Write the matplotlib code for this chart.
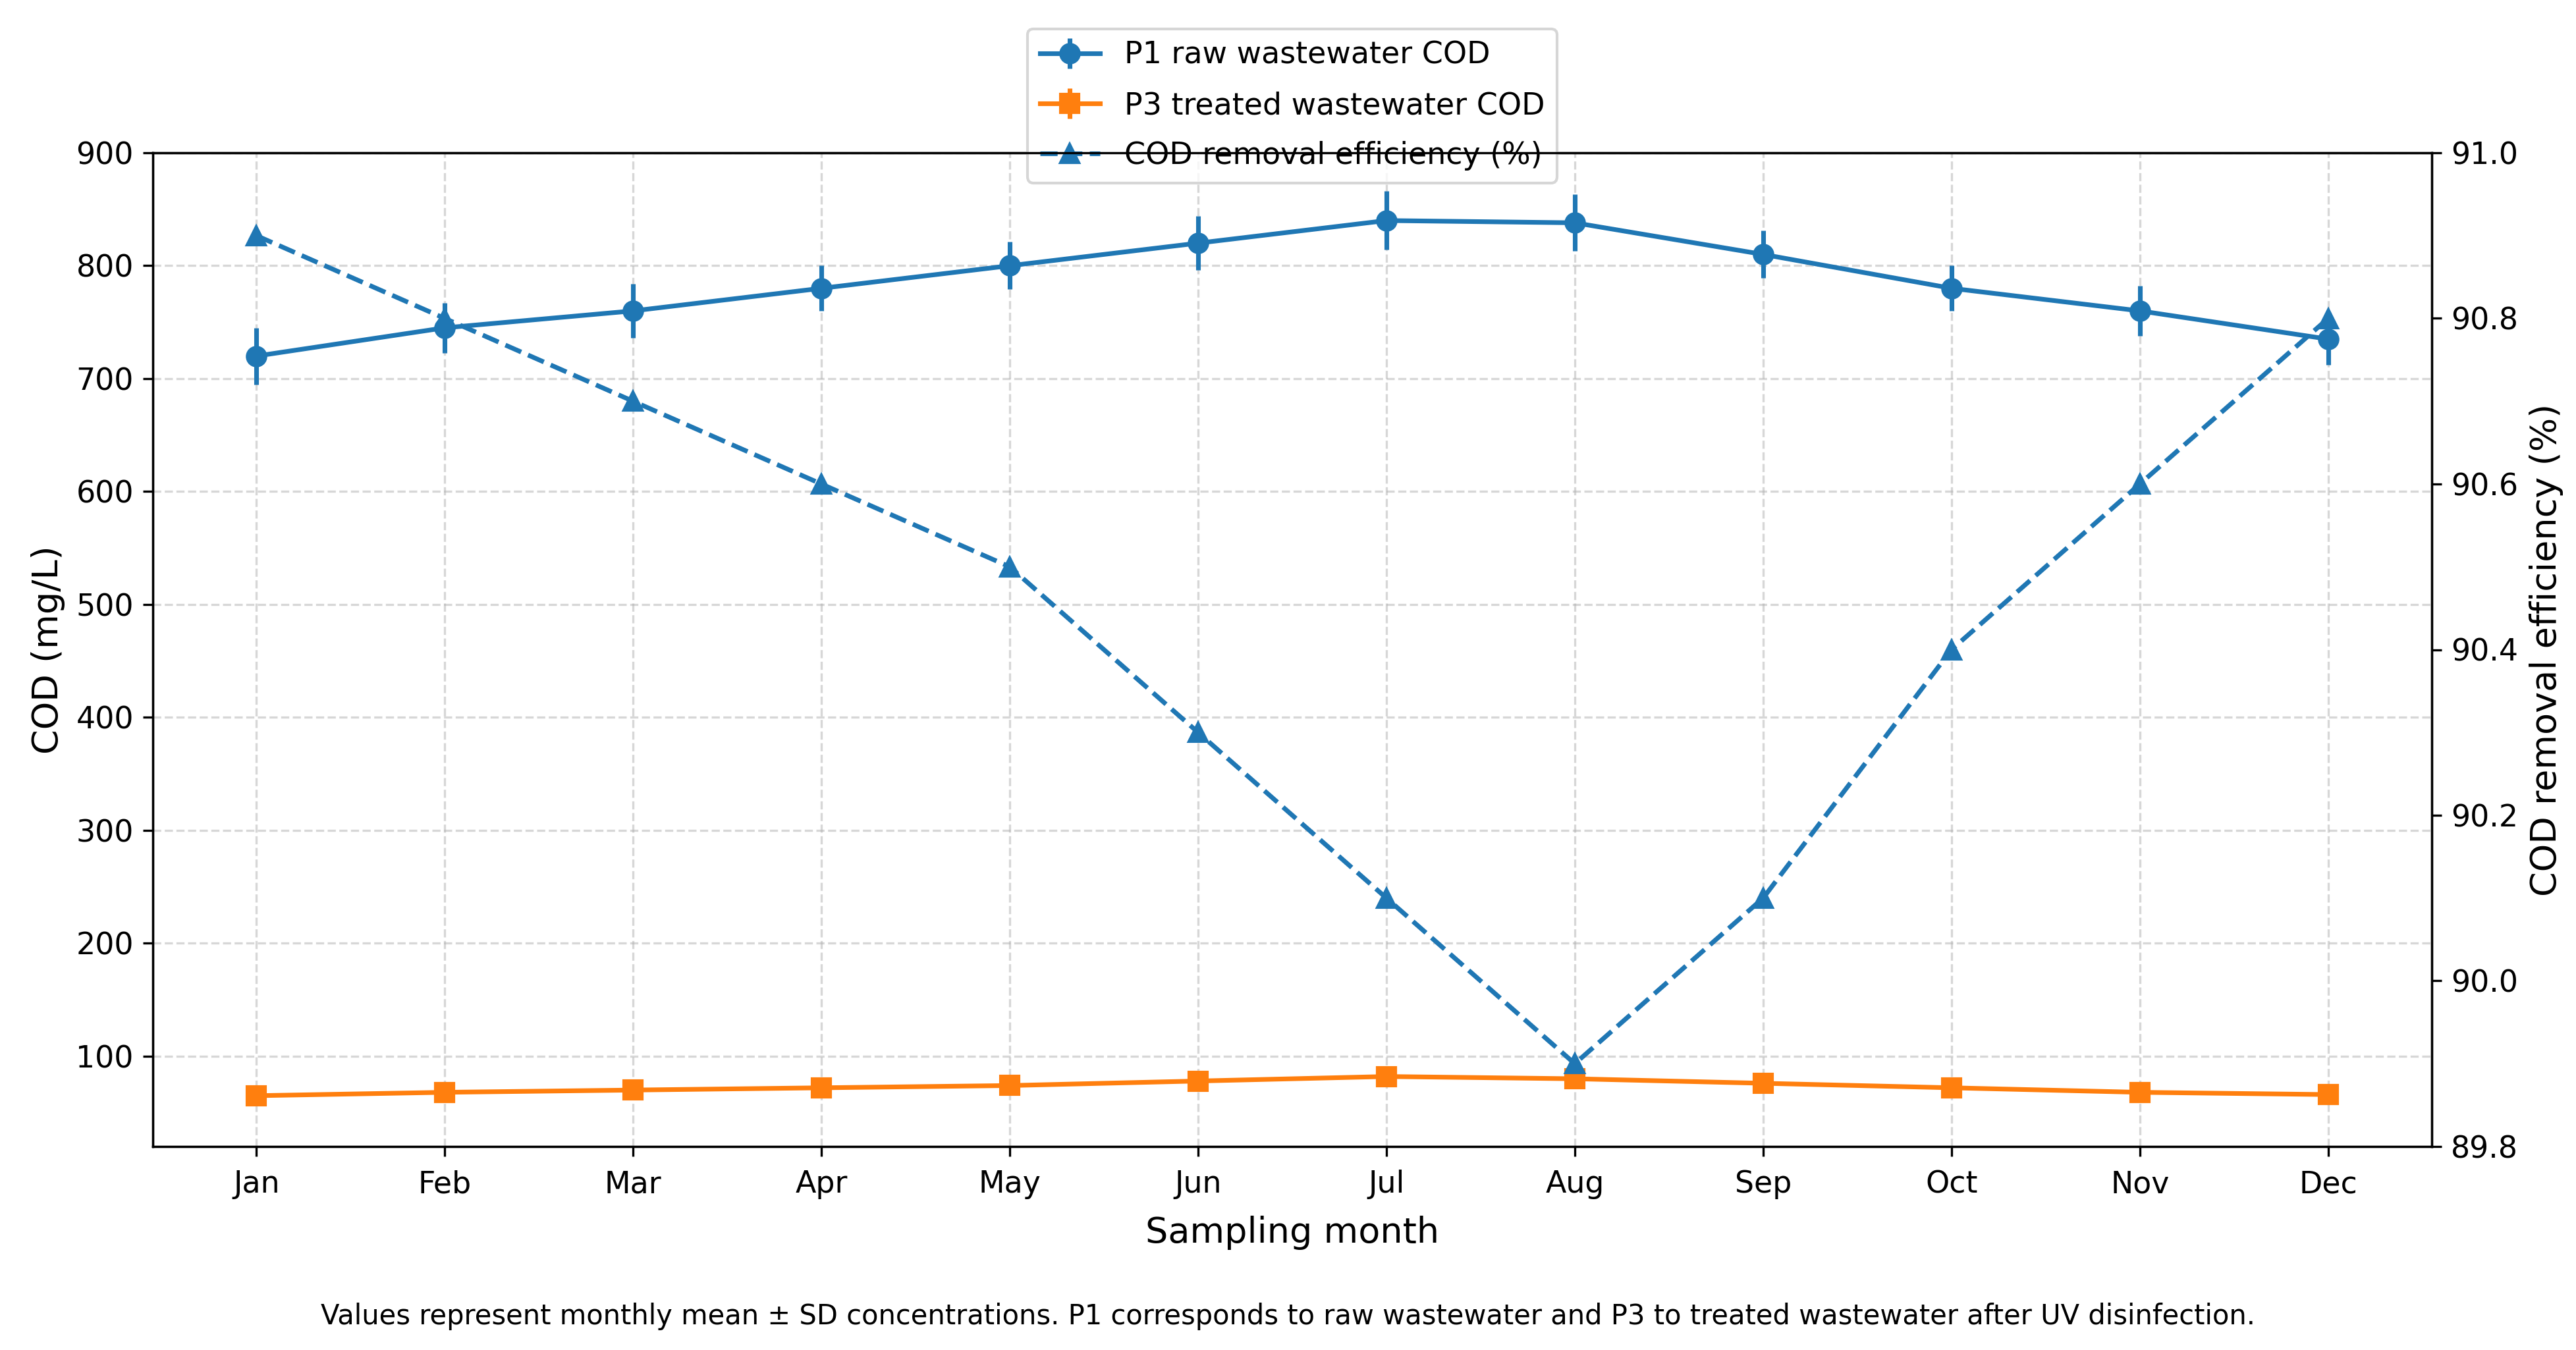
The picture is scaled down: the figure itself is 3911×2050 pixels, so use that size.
import numpy as np
import matplotlib.pyplot as plt

# monthly data
months = ['Jan', 'Feb', 'Mar', 'Apr', 'May', 'Jun', 'Jul', 'Aug', 'Sep', 'Oct', 'Nov', 'Dec']
p1_cod = [720, 745, 760, 780, 800, 820, 840, 838, 810, 780, 760, 735]
p1_sd = [25, 22, 24, 20, 21, 24, 26, 25, 21, 20, 22, 23]
p3_cod = [65, 68, 70, 72, 74, 78, 82, 80, 76, 72, 68, 66]
p3_sd = [5, 5, 5, 5, 5, 5, 5, 5, 5, 5, 5, 5]
removal_eff = [90.9, 90.8, 90.7, 90.6, 90.5, 90.3, 90.1, 89.9, 90.1, 90.4, 90.6, 90.8]

caption = ('Values represent monthly mean \u00b1 SD concentrations. P1 corresponds to raw '
           'wastewater and P3 to treated wastewater after UV disinfection.')

x = np.arange(len(months))

fig = plt.figure(figsize=(3911 / 300, 2050 / 300), dpi=300)
ax1 = fig.add_axes([232 / 3911, 1 - 1741 / 2050, (3692 - 232) / 3911, (1741 - 232) / 2050])

h1 = ax1.errorbar(x, p1_cod, yerr=p1_sd, fmt='-o', color='C0', lw=1.7, ms=6.8,
                  label='P1 raw wastewater COD')
h2 = ax1.errorbar(x, p3_cod, yerr=p3_sd, fmt='-s', color='C1', lw=1.7, ms=6.8,
                  label='P3 treated wastewater COD')
ax1.set_ylim(20, 900)
ax1.set_xticks(x)
ax1.set_xticklabels(months)
ax1.tick_params(labelsize=11)
ax1.tick_params(axis='x', pad=5)
ax1.set_xlabel('Sampling month', fontsize=13, labelpad=6)
ax1.set_ylabel('COD (mg/L)', fontsize=13)
ax1.grid(True, linestyle='--', alpha=0.5)

ax2 = ax1.twinx()
h3, = ax2.plot(x, removal_eff, ls='--', marker='^', color='C0', lw=1.7, ms=6.8,
               label='COD removal efficiency (%)')
ax2.set_ylim(89.8, 91.0)
ax2.tick_params(labelsize=11)
ax2.set_ylabel('COD removal efficiency (%)', fontsize=13)

ax1.legend([h1, h2, h3], [h1.get_label(), h2.get_label(), h3.get_label()],
           loc='upper center', bbox_to_anchor=(0.5, 1.14), fontsize=11, labelspacing=0.68)

fig.text(0.5, 0.025, caption, ha='center', va='center', fontsize=10)

fig.savefig('out.png', dpi=300)
